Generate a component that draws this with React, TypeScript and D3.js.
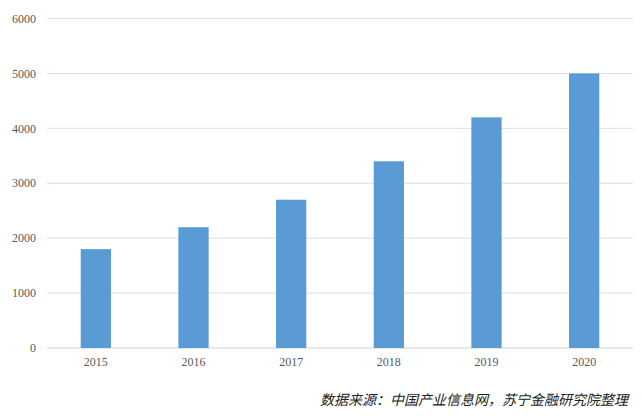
import React from "react";
import * as d3 from "d3";

const categories = ["2015", "2016", "2017", "2018", "2019", "2020"];
const values = [1800, 2200, 2700, 3400, 4200, 5000];
const yTicks = [0, 1000, 2000, 3000, 4000, 5000, 6000];
const sourceText = "数据来源：中国产业信息网，苏宁金融研究院整理";

const W = 642;
const H = 416;
const M = { left: 47, right: 9, top: 18.5, bottom: 68 };

export default function App() {
  const x = d3
    .scaleBand<string>()
    .domain(categories)
    .range([M.left, W - M.right])
    .paddingInner(0.69)
    .paddingOuter(0.345);
  const y = d3.scaleLinear().domain([0, 6000]).range([H - M.bottom, M.top]);

  return (
    <div style={{ position: "fixed", left: 0, top: 0 }}>
      <svg width={W} height={H} style={{ display: "block", background: "#fff" }}>
        {yTicks.map((t) => (
          <g key={t}>
            <line
              x1={M.left}
              x2={W - M.right}
              y1={y(t)}
              y2={y(t)}
              stroke={t === 0 ? "#d0d0d0" : "#dedede"}
              strokeWidth={1}
            />
            <text
              x={36}
              y={y(t)}
              dy="0.35em"
              textAnchor="end"
              fontFamily="'Liberation Serif', 'DejaVu Serif', serif"
              fontSize={12}
              fill="#595959"
            >
              {t}
            </text>
          </g>
        ))}
        {categories.map((c, i) => (
          <g key={c}>
            <rect
              x={x(c)}
              y={y(values[i])}
              width={x.bandwidth()}
              height={y(0) - y(values[i])}
              fill="#5b9bd5"
            />
            <text
              x={(x(c) as number) + x.bandwidth() / 2}
              y={y(0) + 18}
              textAnchor="middle"
              fontFamily="'Liberation Serif', 'DejaVu Serif', serif"
              fontSize={12}
              fill="#595959"
            >
              {c}
            </text>
          </g>
        ))}
        <text
          x={320}
          y={405}
          textLength={308}
          lengthAdjust="spacing"
          fontFamily="'Noto Sans CJK SC', sans-serif"
          fontSize={14}
          fontStyle="italic"
          fill="#222"
        >
          {sourceText}
        </text>
      </svg>
    </div>
  );
}
